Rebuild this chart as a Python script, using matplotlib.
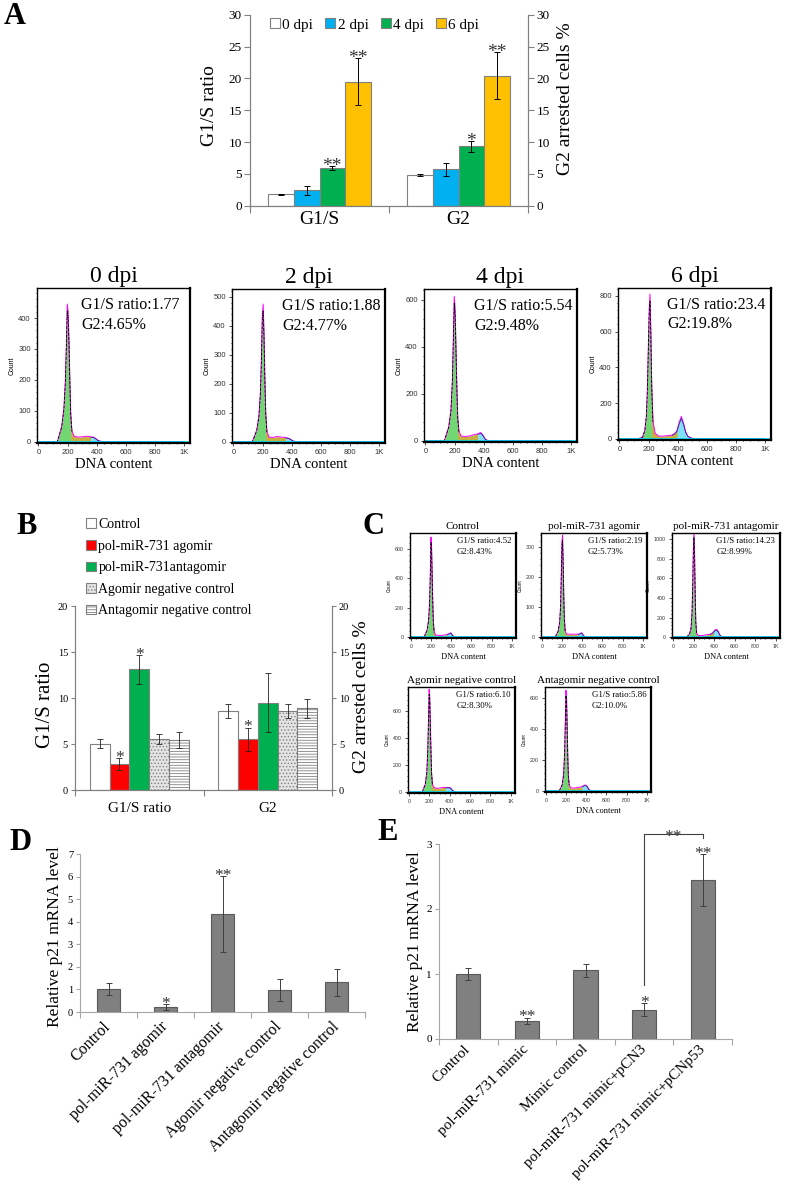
import numpy as np
import matplotlib
matplotlib.use('Agg')
import matplotlib.pyplot as plt
from matplotlib.patches import Patch

plt.rcParams['font.family'] = 'Liberation Serif'
plt.rcParams['hatch.linewidth'] = 0.6

# ---------------- data ----------------
# panel A bars
a_groups = ['G1/S', 'G2']
a_labels = ['0 dpi', '2 dpi', '4 dpi', '6 dpi']
a_g1s = [1.8, 2.4, 5.9, 19.5]
a_g1s_err = [0.1, 0.7, 0.35, 3.7]
a_g2 = [4.8, 5.7, 9.35, 20.4]
a_g2_err = [0.2, 1.0, 0.85, 3.7]
a_g1s_sig = ['', '', '**', '**']
a_g2_sig = ['', '', '*', '**']
a_colors = ['white', '#00B0F0', '#00B050', '#FFC000']

# flow cytometry histograms (counts read at these DNA content values)
dna_grid = [0, 130, 160, 175, 185, 192, 198, 204, 210, 216, 222, 230, 245, 270,
            300, 330, 360, 380, 395, 410, 425, 440, 455, 470, 490, 520, 1000]
hist_0dpi = [0, 0, 50, 110, 200, 320, 445, 420, 330, 200, 90, 35, 18, 15, 16, 18, 16, 15, 10, 4, 2, 0, 0, 0, 0, 0, 0]
hist_2dpi = [0, 0, 40, 90, 170, 290, 430, 475, 380, 220, 100, 35, 16, 15, 18, 16, 15, 12, 8, 3, 1, 0, 0, 0, 0, 0, 0]
hist_4dpi = [0, 0, 60, 130, 260, 450, 615, 560, 400, 230, 100, 40, 20, 18, 20, 25, 30, 35, 25, 8, 2, 0, 0, 0, 0, 0, 0]
hist_6dpi = [0, 0, 10, 50, 130, 280, 500, 720, 810, 600, 300, 100, 30, 15, 15, 18, 20, 30, 45, 90, 125, 90, 40, 15, 5, 0, 0]
a_ratio = ['G1/S ratio:1.77', 'G1/S ratio:1.88', 'G1/S ratio:5.54', 'G1/S ratio:23.4']
a_g2txt = ['G2:4.65%', 'G2:4.77%', 'G2:9.48%', 'G2:19.8%']

# panel B bars
b_groups = ['G1/S ratio', 'G2']
b_labels = ['Control', 'pol-miR-731 agomir', 'pol-miR-731antagomir',
            'Agomir negative control', 'Antagomir negative control']
b_g1s = [5.03, 2.85, 13.1, 5.5, 5.42]
b_g1s_err = [0.5, 0.63, 1.57, 0.54, 0.89]
b_g2 = [8.6, 5.5, 9.5, 8.6, 8.86]
b_g2_err = [0.8, 1.27, 3.2, 0.8, 1.0]
b_g1s_sig = ['', '*', '*', '', '']
b_g2_sig = ['', '*', '', '', '']

# panel C histograms
c_titles = ['Control', 'pol-miR-731 agomir', 'pol-miR-731 antagomir',
            'Agomir negative control', 'Antagomir negative control']
hist_ctrl = [0, 0, 50, 120, 250, 450, 680, 620, 430, 240, 100, 35, 15, 12, 12, 14, 18, 25, 30, 15, 4, 0, 0, 0, 0, 0, 0]
hist_ago = [0, 0, 20, 50, 110, 220, 320, 340, 250, 140, 60, 20, 10, 10, 10, 10, 10, 12, 15, 6, 2, 0, 0, 0, 0, 0, 0]
hist_antago = [0, 0, 30, 90, 250, 550, 900, 1075, 850, 450, 150, 40, 18, 15, 20, 25, 30, 40, 55, 75, 80, 60, 25, 8, 2, 0, 0]
hist_agonc = [0, 0, 60, 150, 330, 560, 760, 700, 500, 300, 140, 60, 35, 28, 30, 35, 35, 35, 35, 30, 15, 6, 2, 0, 0, 0, 0]
hist_antnc = [0, 0, 40, 110, 260, 460, 650, 600, 420, 230, 100, 40, 22, 20, 22, 25, 30, 38, 40, 30, 12, 4, 1, 0, 0, 0, 0]
c_ratio = ['G1/S ratio:4.52', 'G1/S ratio:2.19', 'G1/S ratio:14.23', 'G1/S ratio:6.10', 'G1/S ratio:5.86']
c_g2txt = ['G2:8.43%', 'G2:5.73%', 'G2:8.99%', 'G2:8.30%', 'G2:10.0%']

# panel D
d_labels = ['Control', 'pol-miR-731 agomir', 'pol-miR-731 antagomir',
            'Agomir negative control', 'Antagomir negative control']
d_vals = [1.03, 0.22, 4.35, 0.96, 1.31]
d_err = [0.27, 0.13, 1.67, 0.48, 0.61]
d_sig = ['', '*', '**', '', '']

# panel E
e_labels = ['Control', 'pol-miR-731 mimic', 'Mimic control',
            'pol-miR-731 mimic+pCN3', 'pol-miR-731 mimic+pCNp53']
e_vals = [1.0, 0.28, 1.06, 0.45, 2.44]
e_err = [0.09, 0.05, 0.1, 0.1, 0.4]
e_sig = ['', '**', '', '*', '**']

# ---------------- figure ----------------
W, H = 787, 1189
fig = plt.figure(figsize=(W / 100, H / 100), dpi=100)


def box(x0, y0, x1, y1):
    return fig.add_axes([x0 / W, 1 - y1 / H, (x1 - x0) / W, (y1 - y0) / H])


def ftext(x, y, s, **kw):
    return fig.text(x / W, 1 - y / H, s, **kw)


def star(ax, x, y, s, fs):
    px = fs * 100 / 72
    ax.annotate(s, (x, y), xytext=(0, (6 - 0.56 * px) * 0.72), textcoords='offset points',
                ha='center', va='baseline', fontsize=fs, color='#333333', annotation_clip=False)


def hist(ax, counts, ymax, ystep, g2_start, fs, txt1, txt2, tx, tfs, ty):
    x = np.array(dna_grid)
    y = np.array(counts)
    ax.fill_between(x, 0, y, where=x <= 230, color='#72D672', lw=0)
    ax.fill_between(x, 0, y, where=(x >= 222) & (x <= g2_start + 15), color='#C8B040', lw=0)
    ax.fill_between(x, 0, y, where=x >= g2_start, color='#80E0F8', lw=0)
    ax.plot(x, y, color='#FF00FF', lw=0.7)
    ax.plot(x[:12], y[:12] * 0.95, color='black', lw=0.6, ls='--')
    ax.plot(x[16:], y[16:] * 0.9, color='#202080', lw=0.5)
    ax.axhline(0, color='#00E0FF', lw=1.2)
    ax.set_xlim(-10, 1042)
    ax.set_ylim(-ymax * 0.008, ymax)
    ax.set_yticks(np.arange(0, ymax, ystep))
    ax.set_yticks(np.arange(0, ymax, ystep / 5), minor=True)
    ax.set_xticks([0, 200, 400, 600, 800, 1000])
    ax.set_xticklabels(['0', '200', '400', '600', '800', '1K'])
    ax.set_xticks(np.arange(0, 1001, 50), minor=True)
    ax.tick_params(labelsize=fs, length=2, width=0.6, pad=2.5, colors='#333333')
    ax.tick_params(which='minor', length=1, width=0.5)
    for lab in ax.get_xticklabels() + ax.get_yticklabels():
        lab.set_family('Liberation Sans')
    for sp in ax.spines.values():
        sp.set_linewidth(1.0)
    ax.spines['bottom'].set_linewidth(1.6)
    ax.spines['right'].set_linewidth(1.6)
    ax.set_ylabel('Count', fontsize=fs * 0.9, family='Liberation Sans', labelpad=2)
    ax.text(tx, ty[0], txt1, transform=ax.transAxes, fontsize=tfs, va='center')
    ax.text(tx, ty[1], txt2, transform=ax.transAxes, fontsize=tfs, va='center')


# panel letters
for lt, (lx, ly) in zip('ABCDE', [(15, 17), (27, 527), (373, 527), (20, 843), (388, 833)]):
    ftext(lx, ly, lt, fontsize=22, fontweight='bold', ha='center', va='center')

# ---- panel A bar chart ----
axA = box(250, 14.7, 528, 205.7)
xc = np.arange(2) + 0.5
w = 0.1835
ek = dict(ecolor='black', elinewidth=0.7, capsize=2, capthick=0.7)
handles = []
for i in range(4):
    xs = xc + (i - 1.5) * w
    b = axA.bar(xs, [a_g1s[i], a_g2[i]], w, yerr=[a_g1s_err[i], a_g2_err[i]],
                color=a_colors[i], edgecolor='#808080', lw=0.8, error_kw=ek)
    handles.append(b)
    star(axA, xs[0], a_g1s[i] + a_g1s_err[i], a_g1s_sig[i], 14)
    star(axA, xs[1], a_g2[i] + a_g2_err[i], a_g2_sig[i], 14)
axA.set_xlim(0, 2)
axA.set_ylim(0, 30)
axA.set_yticks(range(0, 31, 5))
axA.set_xticks([0, 1, 2])
axA.set_xticklabels([])
axA.set_xticks(xc, minor=True)
axA.set_xticklabels(a_groups, minor=True, fontsize=14)
axA.tick_params(axis='x', which='minor', length=0, pad=4)
axA.tick_params(axis='x', which='major', length=5, color='#808080')
axA.tick_params(axis='y', labelsize=9.5, length=4, color='#808080', pad=2)
axA.spines['top'].set_visible(False)
for s in ['left', 'right', 'bottom']:
    axA.spines[s].set_color('#808080')
axA2 = axA.twinx()
axA2.set_ylim(0, 30)
axA2.set_yticks(range(0, 31, 5))
axA2.tick_params(axis='y', labelsize=9.5, length=4, color='#808080', pad=2)
axA2.spines['top'].set_visible(False)
for s in ['left', 'right', 'bottom']:
    axA2.spines[s].set_color('#808080')
ftext(210, 106, 'G1/S ratio', rotation=90, fontsize=14, ha='center', va='center')
ftext(565, 99, 'G2 arrested cells %', rotation=90, fontsize=14, ha='center', va='center')
fig.legend(handles, a_labels, loc='center left', bbox_to_anchor=(270 / W, 1 - 25 / H), ncol=4,
           frameon=False, fontsize=11, handlelength=0.65, handleheight=0.65, handletextpad=0.15,
           columnspacing=0.8, borderpad=0, borderaxespad=0)

# ---- panel A histograms ----
a_hists = [hist_0dpi, hist_2dpi, hist_4dpi, hist_6dpi]
a_boxes = [(37, 288, 190, 443), (232, 289, 385, 443), (424, 289, 577, 442), (618, 288, 771, 440)]
a_ymax = [497, 527, 646, 844]
a_ystep = [100, 100, 200, 200]
a_g2start = [360, 360, 360, 395]
a_tx = [0.29, 0.33, 0.33, 0.32]
for i in range(4):
    ax = box(*a_boxes[i])
    hist(ax, a_hists[i], a_ymax[i], a_ystep[i], a_g2start[i], 5.5, a_ratio[i], a_g2txt[i],
         a_tx[i], 11.5, (0.89, 0.76))
    ax.set_title(a_labels[i], fontsize=17, pad=4)
    ax.set_xlabel('DNA content', fontsize=10.5, labelpad=1.5)

# ---- panel B ----
axB = box(75, 606, 332, 790)
wb = 0.154
b_face = ['white', '#FF0000', '#00B050', '#E4E4E4', 'white']
b_hatch = [None, None, None, '.....', '------']
ekb = dict(ecolor='#222222', elinewidth=0.6, capsize=2, capthick=0.6)
b_handles = []
for i in range(5):
    xs = xc + (i - 2) * wb
    axB.bar(xs, [b_g1s[i], b_g2[i]], wb, yerr=[b_g1s_err[i], b_g2_err[i]],
            color=b_face[i], edgecolor='#808080', hatch=b_hatch[i], lw=0.8, error_kw=ekb)
    b_handles.append(Patch(facecolor=b_face[i], edgecolor='#808080', hatch=b_hatch[i], lw=0.8))
    star(axB, xs[0], b_g1s[i] + b_g1s_err[i], b_g1s_sig[i], 12.5)
    star(axB, xs[1], b_g2[i] + b_g2_err[i], b_g2_sig[i], 12.5)
axB.set_xlim(0, 2)
axB.set_ylim(0, 20)
axB.set_yticks(range(0, 21, 5))
axB.set_xticks([0, 1, 2])
axB.set_xticklabels([])
axB.set_xticks(xc, minor=True)
axB.set_xticklabels(b_groups, minor=True, fontsize=11)
axB.tick_params(axis='x', which='minor', length=0, pad=9)
axB.tick_params(axis='x', which='major', length=4, color='#808080')
axB.tick_params(axis='y', labelsize=7.5, length=3, color='#808080', pad=2)
axB.spines['top'].set_visible(False)
for s in ['left', 'right', 'bottom']:
    axB.spines[s].set_color('#808080')
axB2 = axB.twinx()
axB2.set_ylim(0, 20)
axB2.set_yticks(range(0, 21, 5))
axB2.tick_params(axis='y', labelsize=7.5, length=3, color='#808080', pad=2)
axB2.spines['top'].set_visible(False)
for s in ['left', 'right', 'bottom']:
    axB2.spines[s].set_color('#808080')
ftext(45, 705, 'G1/S ratio', rotation=90, fontsize=15, ha='center', va='center')
ftext(362, 697, 'G2 arrested cells %', rotation=90, fontsize=14, ha='center', va='center')
fig.legend(b_handles, b_labels, loc='upper left', bbox_to_anchor=(86 / W, 1 - 518 / H),
           frameon=False, fontsize=10, handlelength=0.7, handleheight=0.7, handletextpad=0.2,
           labelspacing=0.62, borderpad=0, borderaxespad=0)

# ---- panel C ----
c_hists = [hist_ctrl, hist_ago, hist_antago, hist_agonc, hist_antnc]
c_boxes = [(410, 533, 516, 638), (541, 533, 647, 638), (672, 533, 780, 638),
           (408, 687, 515, 793), (545, 687, 651, 792)]
c_ymax = [708, 347, 1064, 776, 671]
c_ystep = [200, 100, 200, 200, 200]
c_g2start = [360, 360, 395, 360, 360]
c_tx = [0.44, 0.44, 0.41, 0.45, 0.44]
for i in range(5):
    ax = box(*c_boxes[i])
    hist(ax, c_hists[i], c_ymax[i], c_ystep[i], c_g2start[i], 3.8, c_ratio[i], c_g2txt[i],
         c_tx[i], 6.3, (0.92, 0.82))
    ax.set_title(c_titles[i], fontsize=8, pad=3)
    ax.set_xlabel('DNA content', fontsize=6, labelpad=3)

# ---- panel D ----
axD = box(80, 854, 365, 1012)
xd = np.arange(5) + 0.5
ekd = dict(ecolor='#404040', elinewidth=0.7, capsize=2, capthick=0.7)
axD.bar(xd, d_vals, 0.4, yerr=d_err, color='#808080', edgecolor='#5A5A5A', lw=0.8, error_kw=ekd)
for i in range(5):
    star(axD, xd[i], d_vals[i] + d_err[i], d_sig[i], 12.5)
axD.set_xlim(0, 5)
axD.set_ylim(0, 7)
axD.set_yticks(range(0, 8))
axD.set_xticks(range(6))
axD.set_xticklabels([])
axD.set_xticks(xd, minor=True)
axD.set_xticklabels(d_labels, minor=True, rotation=45, ha='right', va='center',
                    rotation_mode='anchor', fontsize=11.5)
axD.tick_params(axis='x', which='minor', length=0, pad=9)
axD.tick_params(axis='x', which='major', length=4, color='#A6A6A6')
axD.tick_params(axis='y', labelsize=7.5, length=3, color='#A6A6A6', pad=2)
for s in ['top', 'right']:
    axD.spines[s].set_visible(False)
for s in ['left', 'bottom']:
    axD.spines[s].set_color('#A6A6A6')
ftext(55, 937, 'Relative p21 mRNA level', rotation=90, fontsize=12.5, ha='center', va='center')

# ---- panel E ----
axE = box(439, 844, 732, 1039)
axE.bar(xd, e_vals, 0.41, yerr=e_err, color='#808080', edgecolor='#5A5A5A', lw=0.8, error_kw=ekd)
for i in range(5):
    star(axE, xd[i], e_vals[i] + e_err[i], e_sig[i], 12.5)
axE.plot([xd[3], xd[3], xd[4], xd[4]], [0.83, 3.16, 3.16, 3.1], color='#404040', lw=0.8, clip_on=False)
star(axE, (xd[3] + xd[4]) / 2, 3.1, '**', 12.5)
axE.set_xlim(0, 5)
axE.set_ylim(0, 3)
axE.set_yticks(range(0, 4))
axE.set_xticks(range(6))
axE.set_xticklabels([])
axE.set_xticks(xd, minor=True)
axE.set_xticklabels(e_labels, minor=True, rotation=45, ha='right', va='center',
                    rotation_mode='anchor', fontsize=11)
axE.tick_params(axis='x', which='minor', length=0, pad=6)
axE.tick_params(axis='x', which='major', length=4, color='#A6A6A6')
axE.tick_params(axis='y', labelsize=8, length=3, color='#A6A6A6', pad=2)
for s in ['top', 'right']:
    axE.spines[s].set_visible(False)
for s in ['left', 'bottom']:
    axE.spines[s].set_color('#A6A6A6')
ftext(415, 942, 'Relative p21 mRNA level', rotation=90, fontsize=12.5, ha='center', va='center')

fig.savefig('out.png', dpi=100)
